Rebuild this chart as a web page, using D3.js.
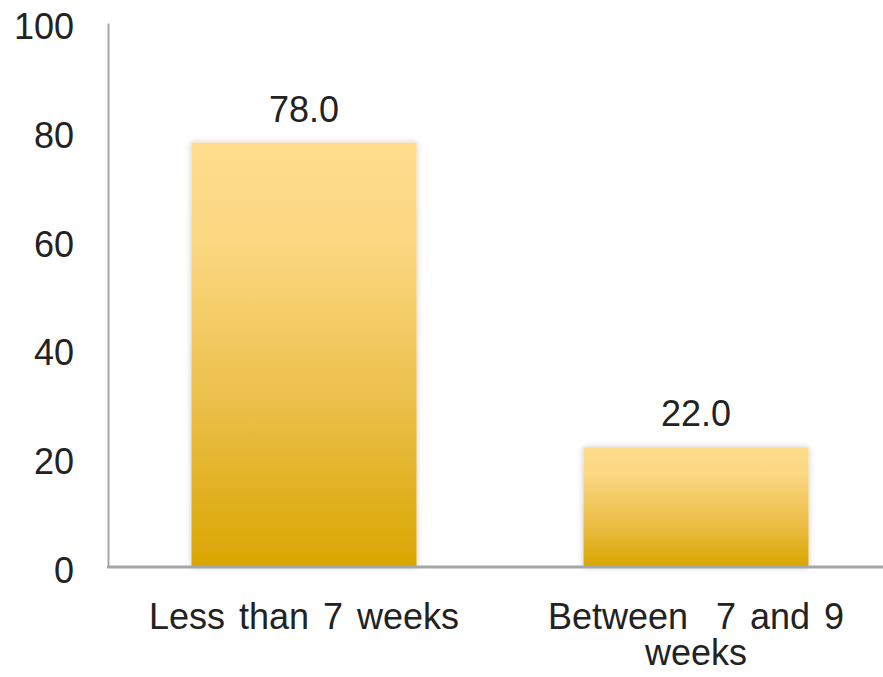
<!DOCTYPE html>
<html>
<head>
<meta charset="utf-8">
<script src="https://cdn.jsdelivr.net/npm/d3@7"></script>
<style>
    body { margin: 0; background: #fff; }
    text { font-family: "Liberation Sans", Arial, sans-serif; fill: #222; }
</style>
</head>
<body>
<div id="chart"></div>
<script>
// Chart data
const categories = ["Less than 7 weeks", "Between  7 and 9|weeks"];
const values = [78.0, 22.0];
const yTicks = [0, 20, 40, 60, 80, 100];

function createBarChart() {
    const W = 883, H = 677;
    const axisX = 108, baseY = 567, topY = 23;

    const svg = d3.select("#chart").append("svg")
        .attr("width", W)
        .attr("height", H);

    const defs = svg.append("defs");

    // vertical gold gradient, light at top
    const grad = defs.append("linearGradient")
        .attr("id", "gold")
        .attr("x1", 0).attr("y1", 0)
        .attr("x2", 0).attr("y2", 1);
    grad.append("stop").attr("offset", "0%").attr("stop-color", "#FEDC8C");
    grad.append("stop").attr("offset", "22%").attr("stop-color", "#FCD883");
    grad.append("stop").attr("offset", "60%").attr("stop-color", "#ECC04C");
    grad.append("stop").attr("offset", "100%").attr("stop-color", "#D9A600");

    const shadow = defs.append("filter")
        .attr("id", "shadow")
        .attr("x", "-10%").attr("y", "-10%")
        .attr("width", "120%").attr("height", "120%");
    shadow.append("feDropShadow")
        .attr("dx", 0).attr("dy", 0)
        .attr("stdDeviation", 3)
        .attr("flood-color", "#000")
        .attr("flood-opacity", 0.22);

    const x = d3.scaleBand()
        .domain(categories)
        .range([axisX, axisX + 784])
        .paddingInner(0.426)
        .paddingOuter(0.213);

    const y = d3.scaleLinear()
        .domain([0, 100])
        .range([baseY, topY]);

    // Bars
    svg.selectAll(".bar")
        .data(values)
        .enter().append("rect")
        .attr("class", "bar")
        .attr("x", (d, i) => x(categories[i]))
        .attr("y", d => y(d))
        .attr("width", x.bandwidth())
        .attr("height", d => baseY - y(d))
        .attr("fill", "url(#gold)")
        .attr("filter", "url(#shadow)");

    // Value labels
    svg.selectAll(".value")
        .data(values)
        .enter().append("text")
        .attr("class", "value")
        .attr("x", (d, i) => x(categories[i]) + x.bandwidth() / 2)
        .attr("y", d => y(d) - 21)
        .attr("text-anchor", "middle")
        .style("font-size", "36px")
        .text(d => d.toFixed(1));

    // Axes
    const yAxis = svg.append("g")
        .attr("transform", `translate(${axisX},0)`)
        .call(d3.axisLeft(y).tickValues(yTicks).tickSize(0).tickPadding(34));
    yAxis.select(".domain")
        .attr("stroke", "#A3A7AB")
        .attr("stroke-width", 2);
    yAxis.selectAll("text")
        .attr("dy", "0.43em")
        .style("font-size", "36px")
        .style("font-family", "'Liberation Sans', Arial, sans-serif")
        .attr("fill", "#222");

    svg.append("line")
        .attr("x1", axisX - 1).attr("x2", W)
        .attr("y1", baseY).attr("y2", baseY)
        .attr("stroke", "#A3A7AB")
        .attr("stroke-width", 3);

    // Category labels
    const cat = svg.selectAll(".cat")
        .data(categories)
        .enter().append("text")
        .attr("class", "cat")
        .attr("x", d => x(d) + x.bandwidth() / 2)
        .attr("y", 629)
        .attr("text-anchor", "middle")
        .style("font-size", "36px")
        .style("white-space", "pre")
        .style("word-spacing", "4px");

    cat.selectAll("tspan")
        .data(d => d.split("|").map(t => ({ t, cx: x(d) + x.bandwidth() / 2 })))
        .enter().append("tspan")
        .attr("x", d => d.cx)
        .attr("dy", (d, i) => i === 0 ? 0 : "1em")
        .text(d => d.t);
}

createBarChart();
</script>
</body>
</html>
